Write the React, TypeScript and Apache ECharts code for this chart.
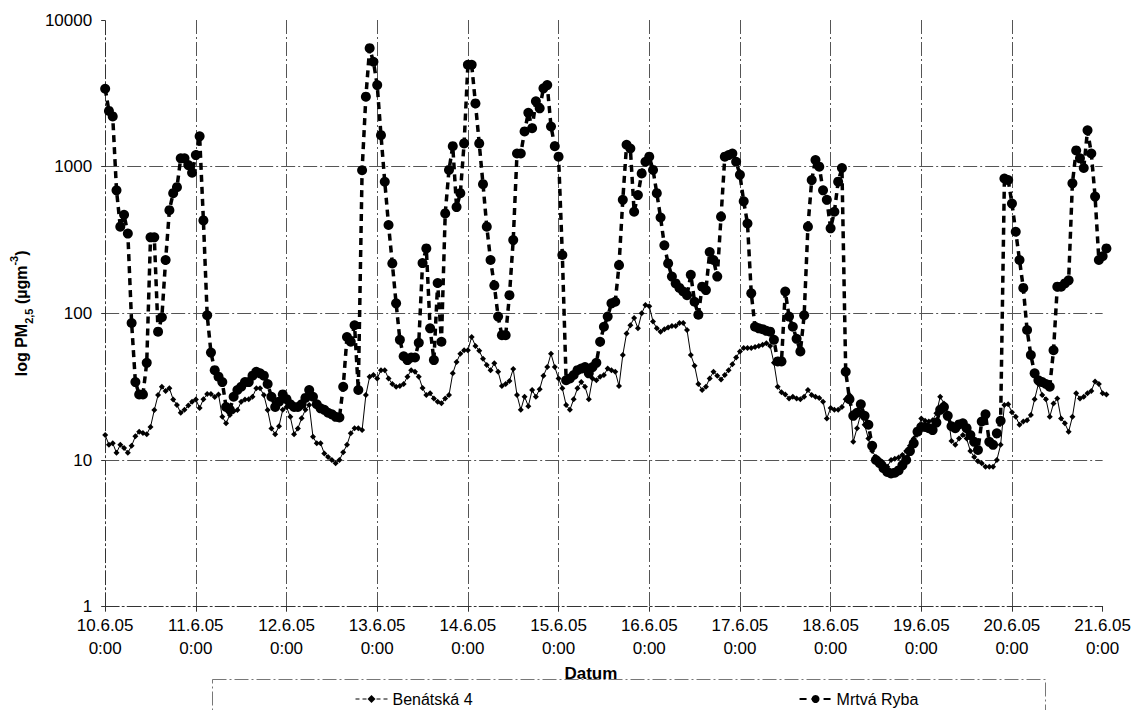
import React, { useEffect, useRef } from "react";
import * as echarts from "echarts";

// Day tick labels (every 24 hours, starting 10.6.05 0:00)
const dayLabels = [
  "10.6.05", "11.6.05", "12.6.05", "13.6.05", "14.6.05", "15.6.05",
  "16.6.05", "17.6.05", "18.6.05", "19.6.05", "20.6.05", "21.6.05",
];
const timeLabel = "0:00";

const seriesNames = ["Benátská 4", "Mrtvá Ryba"];

// Hourly PM2.5 values, Benátská 4 (hour 0 = 10.6.05 0:00)
const benatska = [
  14.8, 12.7, 13, 11.2, 12.7, 12.1, 11.2, 12.5, 14.5, 15.6, 15.3, 15, 16.8, 21.9, 27.7, 31.6, 29.6, 30.8, 25.9, 23.7, 21, 22, 23.5, 25,
  25.9, 22.6, 26, 28.2, 28.2, 26.9, 28, 19.7, 17.8, 20.3, 21.5, 21.9, 25, 25.9, 26, 27, 30.8, 30.8, 27.7, 21.9, 16.4, 15, 17, 22,
  23, 19.7, 15, 16.4, 19.3, 22, 23.7, 14.4, 13, 13, 11.1, 10.5, 10, 9.5, 10, 11.3, 12.7, 15.2, 16.5, 16.5, 16, 27.7, 37, 38,
  36, 41, 41, 36, 33, 31.6, 32, 33, 37, 41, 40, 37, 31, 27.7, 28.5, 26.3, 25, 24.4, 26.3, 27.7, 39, 46.6, 53, 56,
  56, 69, 60, 55.5, 49, 44.4, 41, 45.6, 40, 32, 33, 34.6, 41.7, 27.7, 22, 27, 23.3, 30, 27, 30.4, 37.6, 43, 53, 43,
  36, 30.8, 23.7, 22, 26, 30.8, 34, 31.6, 26, 36, 35, 37, 38, 42, 41, 40, 32, 52, 73, 83, 93, 79, 100, 114,
  112, 88, 79, 75, 78, 80, 82, 82, 86, 86, 77, 52, 44, 33, 30, 31.6, 36, 40, 37.6, 35.4, 38, 41, 45, 50,
  55, 58, 58, 58, 59, 60, 61, 62.6, 60, 46, 31.6, 29, 28, 26.3, 27, 26.3, 26, 27, 30, 27.7, 27, 26.5, 25, 19.2,
  22.6, 22, 22, 23, 26, 27.7, 13.3, 16.5, 20.8, 17.4, 14, 11.5, 10.5, 10, 9.5, 9, 10, 10.2, 10.4, 10.8, 11.5, 12.5, 14, 16,
  19.2, 18.5, 18.3, 18.7, 20.8, 27, 24.3, 20.8, 13.5, 12.7, 14, 14.8, 14, 11.5, 10.5, 9.8, 9.5, 9, 9, 9, 10, 12.7, 23.7, 24,
  21.2, 19.7, 17.4, 18.3, 18.7, 20.3, 26, 33, 27.7, 26, 19.7, 24.3, 26.3, 19.2, 17.8, 15.6, 19.7, 28.5, 26.3, 27, 28.5, 29.6, 34.3, 33,
  28.5, 28,
];

// Hourly PM2.5 values, Mrtvá Ryba
const mrtvaRyba = [
  3400, 2400, 2200, 690, 390, 470, 350, 86, 34, 28, 28, 46, 330, 330, 75, 94, 231, 505, 660, 725, 1140, 1140, 1025, 910,
  1200, 1610, 430, 97, 54, 41, 37, 34, 23, 22, 27, 30, 31.6, 34, 34, 37.6, 40, 39, 37.6, 33, 27, 23, 25, 28,
  26, 24, 23, 23, 24, 26.5, 30, 27, 24, 22.5, 22, 21, 20.5, 19.7, 19.5, 31.6, 69, 64, 83, 30, 946, 3000, 6430, 5190,
  3600, 1640, 789, 400, 219, 117, 66, 51, 48, 50, 50, 63, 220, 277, 79, 48, 161, 64, 480, 950, 1380, 530, 660, 1440,
  4950, 4950, 2700, 1440, 760, 390, 231, 155, 95, 71, 71, 133, 316, 1230, 1230, 1740, 2330, 1830, 2790, 2500, 3420, 3600, 1880, 1380,
  1170, 250, 35, 36, 38, 41, 42, 43, 39, 43, 46, 64, 81, 95, 117, 120, 213, 594, 1410, 1330, 493, 640, 900, 1080,
  1170, 950, 660, 450, 291, 219, 178, 160, 149, 141, 133, 183, 120, 98, 152, 144, 262, 231, 178, 456, 1170, 1200, 1230, 1080,
  880, 580, 410, 137, 81, 79, 78, 76, 75, 66, 47, 47, 141, 95, 81, 67, 55, 97, 390, 810, 1110, 1000, 690, 594,
  380, 493, 790, 980, 40, 26, 20, 21, 24, 20, 17.4, 12.5, 10, 9.5, 8.8, 8.3, 8.1, 8.2, 8.5, 9.2, 10, 11.5, 13, 15.6,
  16.8, 16.8, 16.5, 16, 18, 22, 23, 20, 17, 16.5, 17.5, 17.8, 16.5, 14.8, 13.3, 11.7, 18.3, 20.5, 13.3, 12.7, 15.2, 18.5, 830, 810,
  560, 360, 231, 149, 77, 52, 39, 35, 34, 33, 31.6, 56, 152, 152, 160, 168, 770, 1290, 1140, 980, 1770, 1230, 625, 231,
  245, 277,
];

const FONT = "'Liberation Sans', Arial, Helvetica, sans-serif";
const DASH_DOT = [14, 3, 2, 3];

export default function App() {
  const ref = useRef<HTMLDivElement>(null);

  useEffect(() => {
    if (!ref.current) return;
    const chart = echarts.init(ref.current, null, { renderer: "svg" });
    const toPairs = (arr: number[]) => arr.map((v, i) => [i, v]);

    chart.setOption({
      animation: false,
      backgroundColor: "#ffffff",
      textStyle: { fontFamily: FONT, color: "#000" },
      grid: { left: 105, right: 30, top: 20, bottom: 103.3, containLabel: false },
      xAxis: {
        type: "value",
        min: 0,
        max: 264,
        interval: 24,
        axisLine: { show: true, lineStyle: { color: "#333", width: 1, type: DASH_DOT } },
        axisTick: { show: true, length: 5, lineStyle: { color: "#333" } },
        axisLabel: {
          color: "#000",
          fontSize: 17,
          fontFamily: FONT,
          lineHeight: 23,
          margin: 7,
          formatter: (v: number) => `${dayLabels[Math.round(v / 24)]}\n${timeLabel}`,
        },
        splitLine: {
          show: true,
          showMinLine: false,
          showMaxLine: false,
          lineStyle: { color: "#555", width: 1, type: DASH_DOT },
        },
        name: "Datum",
        nameLocation: "middle",
        nameGap: 30,
        nameTextStyle: {
          fontWeight: "bold",
          fontSize: 17,
          color: "#000",
          fontFamily: FONT,
          padding: [0, 26, 0, 0],
        },
      },
      yAxis: {
        type: "log",
        logBase: 10,
        min: 1,
        max: 10000,
        axisLine: { show: true, lineStyle: { color: "#333", width: 1, type: DASH_DOT } },
        axisTick: { show: true, length: 4, lineStyle: { color: "#333" } },
        axisLabel: {
          color: "#000",
          fontSize: 17,
          fontFamily: FONT,
          margin: 13,
          formatter: (v: number) => String(Math.round(v)),
        },
        splitLine: {
          show: true,
          showMinLine: false,
          showMaxLine: false,
          lineStyle: { color: "#555", width: 1, type: DASH_DOT },
        },
        name: "{a|log PM}{s|2,5}{a| (µgm}{p|-3}{a|)}",
        nameLocation: "middle",
        nameRotate: 90,
        nameGap: 58,
        nameTextStyle: {
          fontFamily: FONT,
          rich: {
            a: { fontSize: 16, fontWeight: "bold", color: "#000", lineHeight: 26, fontFamily: FONT },
            s: { fontSize: 11, fontWeight: "bold", color: "#000", lineHeight: 12, verticalAlign: "bottom", fontFamily: FONT },
            p: { fontSize: 11, fontWeight: "bold", color: "#000", lineHeight: 12, verticalAlign: "top", fontFamily: FONT },
          },
        },
      },
      legend: {
        left: 350,
        top: 686,
        itemGap: 326,
        itemWidth: 32,
        itemHeight: 10,
        textStyle: { fontSize: 16, color: "#000", fontFamily: FONT },
        data: [
          { name: seriesNames[0], lineStyle: { type: [4, 3], width: 1 } },
          { name: seriesNames[1] },
        ],
      },
      graphic: [
        {
          type: "rect",
          silent: true,
          shape: { x: 212.5, y: 679.5, width: 833, height: 60 },
          style: { fill: "none", stroke: "#777", lineWidth: 1, lineDash: DASH_DOT },
        },
      ],
      series: [
        {
          name: seriesNames[0],
          type: "line",
          data: toPairs(benatska),
          showSymbol: true,
          symbol: "diamond",
          symbolSize: 6,
          clip: false,
          lineStyle: { color: "#000", width: 1 },
          itemStyle: { color: "#000" },
          z: 2,
        },
        {
          name: seriesNames[1],
          type: "line",
          data: toPairs(mrtvaRyba),
          showSymbol: true,
          symbol: "circle",
          symbolSize: 10,
          clip: false,
          lineStyle: { color: "#000", width: 3.5, type: [7, 5] },
          itemStyle: { color: "#000" },
          z: 3,
        },
      ],
    });

    return () => {
      chart.dispose();
    };
  }, []);

  return (
    <div
      ref={ref}
      style={{ position: "fixed", left: 0, top: 0, width: 1134, height: 710, background: "#fff" }}
    />
  );
}
